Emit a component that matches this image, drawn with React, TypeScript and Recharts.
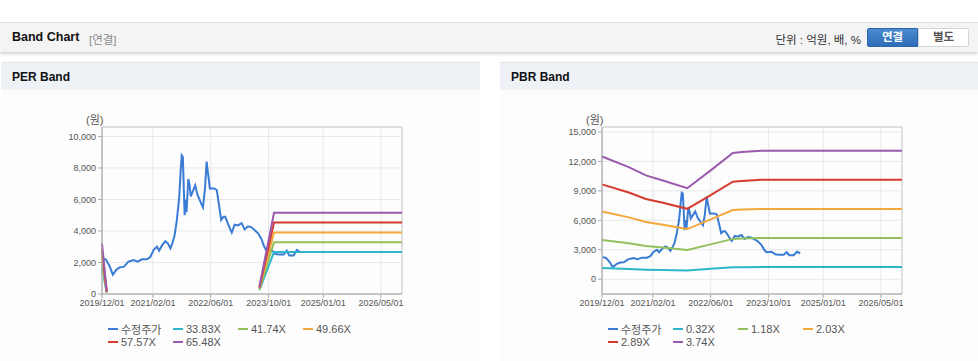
import React from 'react';
import { LineChart, Line, XAxis, YAxis, CartesianGrid, ReferenceArea } from 'recharts';

// x axis
const START_DATE = '2019/12/01';
const END_DATE = '2026/10/25';
const TICK_DATES = ['2019/12/01', '2021/02/01', '2022/06/01', '2023/10/01', '2025/01/01', '2026/05/01'];

// 수정주가 (shared by both charts)
const PRICE_DATES = [
    '2019/12/07', '2020/01/01', '2020/02/01', '2020/03/01', '2020/04/01', '2020/05/01', '2020/06/01',
    '2020/07/10', '2020/08/22', '2020/09/25', '2020/11/01', '2020/12/13', '2021/01/10', '2021/02/07',
    '2021/03/07', '2021/03/25', '2021/04/19', '2021/05/16', '2021/06/07', '2021/06/28', '2021/07/13',
    '2021/08/01', '2021/08/19', '2021/09/01', '2021/09/10', '2021/09/22', '2021/10/01', '2021/10/10',
    '2021/10/25', '2021/11/04', '2021/11/10', '2021/11/25', '2021/12/04', '2021/12/16', '2022/01/01',
    '2022/01/22', '2022/02/10', '2022/03/10', '2022/03/28', '2022/04/13', '2022/04/28', '2022/05/04',
    '2022/05/25', '2022/07/01', '2022/07/22', '2022/08/13', '2022/08/28', '2022/09/16', '2022/10/01',
    '2022/10/22', '2022/11/13', '2022/11/25', '2022/12/19', '2023/01/16', '2023/02/16', '2023/03/13',
    '2023/04/10', '2023/05/07', '2023/06/13', '2023/07/04', '2023/08/01', '2023/08/25', '2023/09/13',
    '2023/10/25', '2023/11/25', '2023/12/22', '2024/02/04', '2024/03/01', '2024/03/22', '2024/04/28',
    '2024/05/25', '2024/06/22',
];
const PRICE_VALUES = [
    2250, 2200, 1800, 1230, 1550, 1700, 1720,
    2050, 2150, 2050, 2200, 2200, 2350, 2800,
    3000, 2750, 3100, 3350, 3200, 2900, 3200,
    3700, 4600, 5500, 6200, 7800, 8800, 8700,
    5000, 6000, 5200, 7300, 7000, 6200, 6500,
    6900, 6300, 5800, 5500, 6600, 8400, 8000,
    6700, 6700, 6600, 5500, 4700, 4900, 4900,
    4500, 4100, 3900, 4400, 4350, 4500, 4100,
    4300, 4250, 4000, 3850, 3500, 3000, 2750,
    2800, 2550, 2500, 2500, 2750, 2450, 2450,
    2800, 2650,
];

// PER band
const PER_NAMES = ['33.83X', '41.74X', '49.66X', '57.57X', '65.48X'];
const PER_DATES = ['2019/12/01', '2020/01/10', '2021/06/01', '2023/07/15', '2023/11/15', '2026/10/25'];
const PER_33 = [1660, 80, null, 240, 2664, 2664];
const PER_41 = [2045, 95, null, 295, 3285, 3285];
const PER_49 = [2435, 115, null, 350, 3909, 3909];
const PER_57 = [2820, 130, null, 405, 4531, 4531];
const PER_65 = [3210, 150, null, 460, 5153, 5153];

// PBR band
const PBR_NAMES = ['0.32X', '1.18X', '2.03X', '2.89X', '3.74X'];
const PBR_DATES = [
    '2019/12/01', '2020/07/13', '2020/12/04', '2021/04/25', '2021/11/16',
    '2022/06/01', '2022/12/04', '2023/02/16', '2023/08/01', '2026/10/25',
];
const PBR_032 = [1150, 1050, 980, 940, 900, 1060, 1220, 1230, 1250, 1250];
const PBR_118 = [4000, 3660, 3390, 3230, 2970, 3550, 4110, 4140, 4190, 4190];
const PBR_203 = [6900, 6300, 5830, 5550, 5110, 6100, 7050, 7100, 7160, 7160];
const PBR_289 = [9660, 8830, 8170, 7780, 7170, 8560, 9930, 10010, 10120, 10120];
const PBR_374 = [12500, 11420, 10570, 10060, 9270, 11080, 12850, 12950, 13090, 13090];

const PER_TICKS = [0, 2000, 4000, 6000, 8000, 10000];
const PBR_TICKS = [0, 3000, 6000, 9000, 12000, 15000];

const COLORS = ['#3a7bd5', '#2db6c7', '#93c05c', '#f4a83c', '#d63b2f', '#9b5aad'];
const FONT = '"Liberation Sans", Arial, "Noto Sans CJK KR", sans-serif';

const toTime = (s: string) => {
    const [y, m, d] = s.split('/').map(Number);
    return Date.UTC(y, m - 1, d);
};
const fmtDate = (t: number) => {
    const d = new Date(t);
    const p = (n: number) => String(n).padStart(2, '0');
    return `${d.getUTCFullYear()}/${p(d.getUTCMonth() + 1)}/${p(d.getUTCDate())}`;
};
const toSeries = (dates: string[], values: (number | null)[]) =>
    dates.map((d, i) => ({ t: toTime(d), v: values[i] }));

interface BandChartProps {
    names: string[];
    bandDates: string[];
    bands: (number | null)[][];
    domain: [number, number];
    ticks: number[];
}

const BandChart: React.FC<BandChartProps> = ({ names, bandDates, bands, domain, ticks }) => {
    const x0 = toTime(START_DATE);
    const x1 = toTime(END_DATE);
    const series = [toSeries(PRICE_DATES, PRICE_VALUES), ...bands.map(b => toSeries(bandDates, b))];
    const labels = ['수정주가', ...names];

    return (
        <div style={{ position: 'relative', width: 370, height: 250 }}>
            <span style={{ position: 'absolute', left: 46, top: 6, fontSize: 11, color: '#555', fontFamily: FONT }}>(원)</span>
            <LineChart width={370} height={213} margin={{ top: 22, right: 8, left: 10, bottom: 4 }}>
                <CartesianGrid stroke="#e8e8e8" />
                <ReferenceArea x1={x0} x2={x1} y1={domain[0]} y2={domain[1]} fill="none" stroke="#cccccc" />
                <XAxis
                    type="number"
                    dataKey="t"
                    domain={[x0, x1]}
                    ticks={TICK_DATES.map(toTime)}
                    tickFormatter={fmtDate}
                    interval={0}
                    height={20}
                    tickSize={4}
                    stroke="#aaaaaa"
                    tick={{ fontSize: 9, fill: '#555', fontFamily: FONT }}
                />
                <YAxis
                    type="number"
                    domain={domain}
                    ticks={ticks}
                    tickFormatter={(v) => v.toLocaleString('en-US')}
                    width={52}
                    tickSize={4}
                    stroke="#aaaaaa"
                    tick={{ fontSize: 9, fill: '#555', fontFamily: FONT }}
                />
                {series.map((data, i) => (
                    <Line
                        key={labels[i]}
                        data={data}
                        dataKey="v"
                        name={labels[i]}
                        type="linear"
                        stroke={COLORS[i]}
                        strokeWidth={2}
                        dot={false}
                        activeDot={false}
                        connectNulls={false}
                        isAnimationActive={false}
                    />
                ))}
            </LineChart>
            {/* legend: 4 columns, 2 rows */}
            <div style={{ position: 'absolute', left: 68, top: 217, width: 280, fontFamily: FONT, fontSize: 11, color: '#555' }}>
                {labels.map((l, i) => (
                    <div
                        key={l}
                        style={{
                            position: 'absolute',
                            left: (i % 4) * 65,
                            top: Math.floor(i / 4) * 13,
                            height: 13,
                            display: 'flex',
                            alignItems: 'center',
                            whiteSpace: 'nowrap',
                        }}
                    >
                        <span style={{ display: 'inline-block', width: 10, height: 2, background: COLORS[i], marginRight: 3 }} />
                        {l}
                    </div>
                ))}
            </div>
        </div>
    );
};

const App: React.FC = () => {
    const panelHead: React.CSSProperties = {
        position: 'absolute', top: 62, height: 28, background: '#eef1f6', borderTop: '1px solid #e2e5ea',
        fontFamily: FONT, fontWeight: 'bold', fontSize: 12, color: '#111', lineHeight: '28px', paddingLeft: 11,
        boxSizing: 'border-box',
    };
    return (
        <div style={{ position: 'absolute', left: 0, top: 0, width: 978, height: 361, background: '#fff', overflow: 'hidden', fontFamily: FONT }}>
            {/* top bar */}
            <div style={{
                position: 'absolute', left: 0, top: 22, width: 978, height: 30, background: '#f4f4f4',
                borderTop: '1px solid #e0e0e0', boxShadow: '0 2px 3px rgba(0,0,0,0.18)', boxSizing: 'border-box',
            }}>
                <span style={{ position: 'absolute', left: 12, top: 7, fontWeight: 'bold', fontSize: 12.5, color: '#111' }}>Band Chart</span>
                <span style={{ position: 'absolute', left: 89, top: 8, fontSize: 11.5, color: '#8a8a8a' }}>[연결]</span>
                <span style={{ position: 'absolute', right: 117, top: 8, fontSize: 11.5, color: '#333' }}>단위 : 억원, 배, %</span>
                <div style={{
                    position: 'absolute', left: 867, top: 5, width: 51, height: 19, boxSizing: 'border-box',
                    background: 'linear-gradient(#4a8ad0, #2f6db8)', border: '1px solid #2b64a8', borderRadius: '2px 0 0 2px',
                    color: '#fff', fontWeight: 'bold', fontSize: 11.5, textAlign: 'center', lineHeight: '17px',
                }}>연결</div>
                <div style={{
                    position: 'absolute', left: 918, top: 5, width: 51, height: 19, boxSizing: 'border-box',
                    background: '#fff', border: '1px solid #d4d4d4', borderRadius: '0 2px 2px 0',
                    color: '#555', fontWeight: 'bold', fontSize: 11.5, textAlign: 'center', lineHeight: '17px',
                }}>별도</div>
            </div>

            {/* PER panel */}
            <div style={{ position: 'absolute', left: 1, top: 90, width: 479, height: 271, background: '#fdfdfd' }} />
            <div style={{ ...panelHead, left: 1, width: 479 }}>PER Band</div>
            <div style={{ position: 'absolute', left: 40, top: 105 }}>
                <BandChart
                    names={PER_NAMES}
                    bandDates={PER_DATES}
                    bands={[PER_33, PER_41, PER_49, PER_57, PER_65]}
                    domain={[0, 10600]}
                    ticks={PER_TICKS}
                />
            </div>

            {/* PBR panel */}
            <div style={{ position: 'absolute', left: 500, top: 90, width: 478, height: 271, background: '#fdfdfd' }} />
            <div style={{ ...panelHead, left: 500, width: 478 }}>PBR Band</div>
            <div style={{ position: 'absolute', left: 540, top: 105 }}>
                <BandChart
                    names={PBR_NAMES}
                    bandDates={PBR_DATES}
                    bands={[PBR_032, PBR_118, PBR_203, PBR_289, PBR_374]}
                    domain={[-1500, 15500]}
                    ticks={PBR_TICKS}
                />
            </div>
        </div>
    );
};

export default App;
